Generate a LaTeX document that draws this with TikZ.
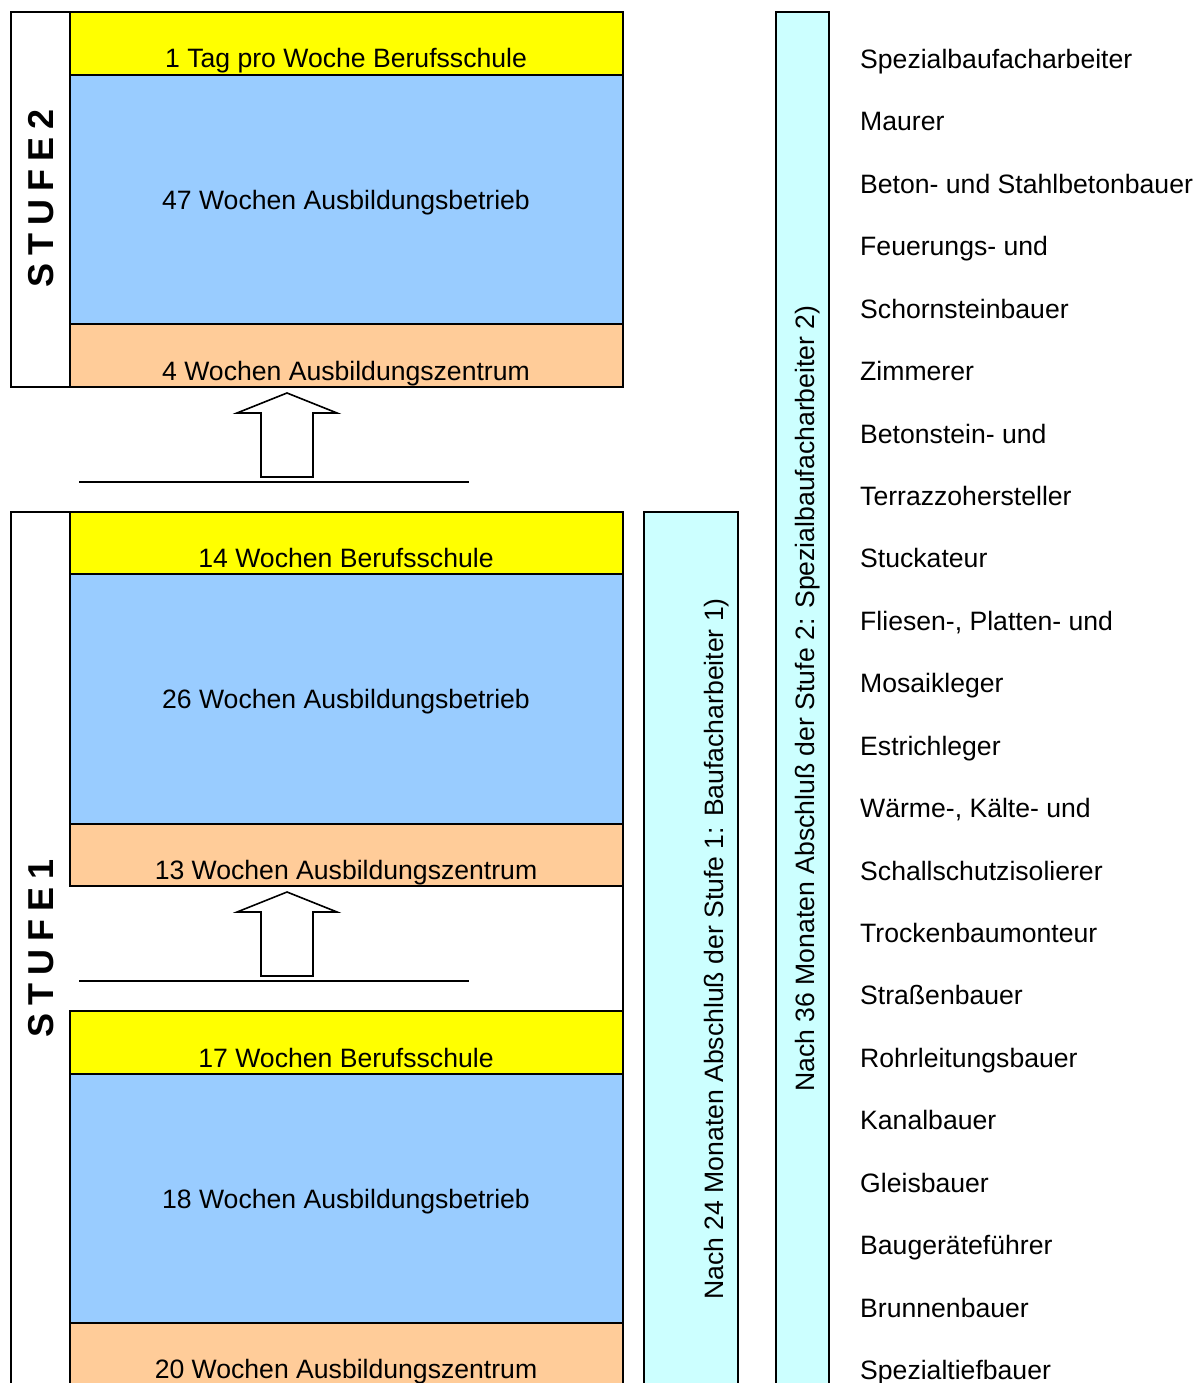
\documentclass[tikz,border=0pt]{standalone}
\usepackage{fontspec}
\setmainfont{Liberation Sans}
\definecolor{schoolY}{HTML}{FFFF00}
\definecolor{firmB}{HTML}{99CCFF}
\definecolor{centerO}{HTML}{FFCC99}
\definecolor{endC}{HTML}{CCFFFF}
\begin{document}
\begin{tikzpicture}[x=1pt,y=-1pt,
  frame/.style={draw=black,line width=2pt},
  band/.style={draw=black,line width=2pt},
  bandtext/.style={font=\fontsize{26.6}{32}\selectfont,anchor=base,inner sep=0pt},
  bartext/.style={font=\fontsize{26.6}{32}\selectfont,anchor=base,rotate=90,inner sep=0pt},
  stufetext/.style={font=\fontsize{36}{40}\selectfont\bfseries,anchor=base,rotate=90,inner sep=0pt},
  listtext/.style={font=\fontsize{26.6}{32}\selectfont,anchor=base west,inner sep=0pt},
  blockarrow/.style={draw=black,line width=1.6pt,fill=white,line join=miter},
  baseline rule/.style={draw=black,line width=2pt}]
\useasboundingbox (0,0) rectangle (1195,1383);
\clip (0,0) rectangle (1195,1383);

% ---- Stufe 2 ----
\path[frame,fill=white] (11,12) rectangle (623,387);
\path[band,fill=schoolY] (70,12) rectangle (623,75);
\path[band,fill=firmB] (70,75) rectangle (623,324);
\path[band,fill=centerO] (70,324) rectangle (623,387);
\node[bandtext] (s2a) at (346,68) {1 Tag pro Woche Berufsschule};
\node[bandtext] (s2b) at (346,209) {47 Wochen Ausbildungsbetrieb};
\node[bandtext] (s2c) at (346,380) {4 Wochen Ausbildungszentrum};
\def\gp{\hspace{8pt}}
\node[stufetext] (st2) at (53,198.5) {S\gp T\gp U\gp F\gp E\gp 2};

% ---- arrow into Stufe 2 ----
\path[blockarrow] (287,393) -- (337,413) -- (313,413) -- (313,477) -- (261,477) -- (261,413) -- (237,413) -- cycle;
\coordinate (r2a) at (79,482);
\coordinate (r2b) at (469,482);
\draw[baseline rule] (r2a) -- (r2b);

% ---- Stufe 1 ----
\path[frame,fill=white] (11,512) rectangle (623,1392);
\path[band,fill=schoolY] (70,512) rectangle (623,574);
\path[band,fill=firmB] (70,574) rectangle (623,824);
\path[band,fill=centerO] (70,824) rectangle (623,886);
\node[bandtext] (s1a) at (346,567) {14 Wochen Berufsschule};
\node[bandtext] (s1b) at (346,708.5) {26 Wochen Ausbildungsbetrieb};
\node[bandtext] (s1c) at (346,879) {13 Wochen Ausbildungszentrum};

\path[blockarrow] (287,892) -- (337,912) -- (313,912) -- (313,976) -- (261,976) -- (261,912) -- (237,912) -- cycle;
\coordinate (r1a) at (79,981);
\coordinate (r1b) at (469,981);
\draw[baseline rule] (r1a) -- (r1b);

\path[band,fill=schoolY] (70,1011) rectangle (623,1074);
\path[band,fill=firmB] (70,1074) rectangle (623,1323);
\path[band,fill=centerO] (70,1323) rectangle (623,1392);
\node[bandtext] (s0a) at (346,1067) {17 Wochen Berufsschule};
\node[bandtext] (s0b) at (346,1208) {18 Wochen Ausbildungsbetrieb};
\node[bandtext] (s0c) at (346,1378) {20 Wochen Ausbildungszentrum};
\node[stufetext] (st1) at (53,948.5) {S\gp T\gp U\gp F\gp E\gp 1};

% ---- completion bars ----
\path[band,fill=endC] (644,512) rectangle (738,1392);
\path[band,fill=endC] (776,12) rectangle (829,1392);
\node[bartext] (b1) at (723,949) {Nach 24 Monaten Abschluß der Stufe 1: Baufacharbeiter 1)};
\node[bartext] (b2) at (814,698.5) {Nach 36 Monaten Abschluß der Stufe 2: Spezialbaufacharbeiter 2)};

% ---- trades ----
\foreach \t [count=\i from 0] in {Spezialbaufacharbeiter,Maurer,Beton- und Stahlbetonbauer,Feuerungs- und,Schornsteinbauer,Zimmerer,Betonstein- und,Terrazzohersteller,Stuckateur,{Fliesen-, Platten- und},Mosaikleger,Estrichleger,{Wärme-, Kälte- und},Schallschutzisolierer,Trockenbaumonteur,Straßenbauer,Rohrleitungsbauer,Kanalbauer,Gleisbauer,Baugeräteführer,Brunnenbauer,Spezialtiefbauer}
  \node[listtext] (t\i) at (860,{68.5+62.43*\i}) {\t};
\end{tikzpicture}
\end{document}
